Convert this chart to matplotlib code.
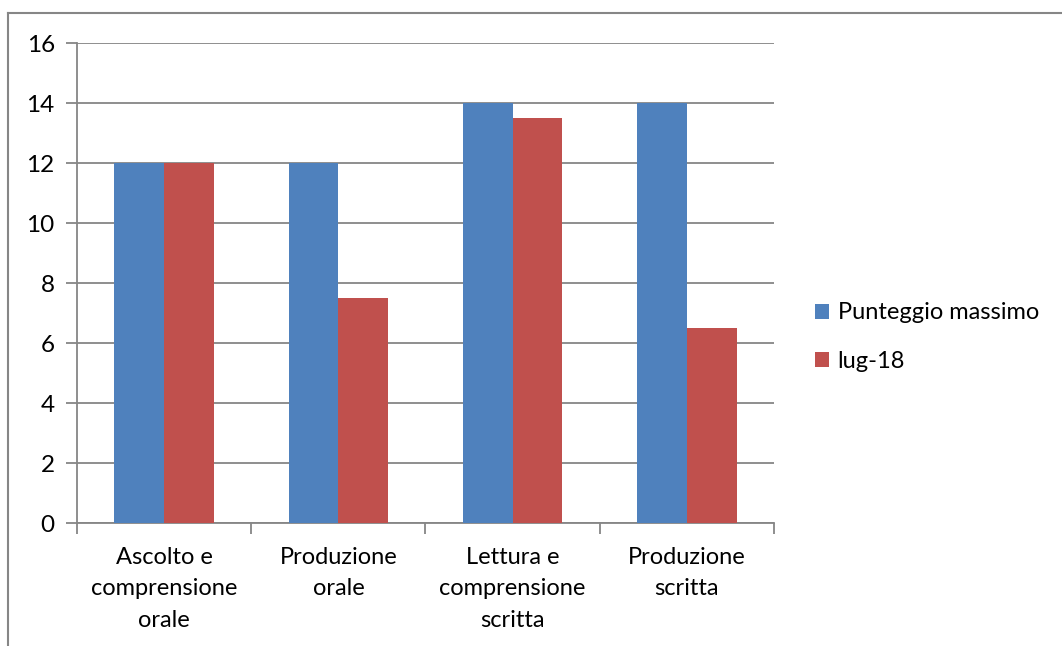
import matplotlib.pyplot as plt
import numpy as np

plt.rcParams['font.family'] = ['Lato', 'DejaVu Sans']

categories = ['Ascolto e\ncomprensione\norale', 'Produzione\norale',
              'Lettura e\ncomprensione\nscritta', 'Produzione\nscritta']
punteggio_massimo = [12, 12, 14, 14]
lug_18 = [12, 7.5, 13.5, 6.5]
series_names = ['Punteggio massimo', 'lug-18']
yticks = [0, 2, 4, 6, 8, 10, 12, 14, 16]

blue = '#4F81BD'
red = '#C0504D'
grid = '#868686'

W, H = 1062, 646
fig = plt.figure(figsize=(W / 100, H / 100), dpi=100)
ax = fig.add_axes([77 / W, 1 - 523 / H, (774 - 77) / W, (523 - 43) / H])

# chart border (only top and left visible in reference)
fig.add_artist(plt.Line2D([8 / W, 8 / W], [0, 1 - 13 / H], color=grid, lw=1.5,
                          transform=fig.transFigure))
fig.add_artist(plt.Line2D([8 / W, 1], [1 - 13 / H, 1 - 13 / H], color=grid, lw=1.5,
                          transform=fig.transFigure))

x = np.arange(len(categories))
bw = 0.285
ax.bar(x - bw / 2, punteggio_massimo, bw, color=blue, label=series_names[0], zorder=3)
ax.bar(x + bw / 2, lug_18, bw, color=red, label=series_names[1], zorder=3)

ax.set_xlim(-0.5, len(categories) - 0.5)
ax.set_ylim(0, 16)
ax.set_yticks(yticks)
ax.set_yticklabels([str(v) for v in yticks], fontsize=17.5)
ax.set_xticks(x)
ax.set_xticklabels(categories, fontsize=17, linespacing=1.62)
ax.set_xticks(np.arange(-0.5, len(categories)), minor=True)
ax.tick_params(axis='x', which='major', length=0, pad=17)
ax.tick_params(axis='x', which='minor', length=8, width=1.3, color=grid, direction='out')
ax.tick_params(axis='y', length=8, width=1.3, color=grid, direction='out', pad=8)

ax.grid(axis='y', color=grid, lw=1.3, zorder=0)
for s in ['top', 'right']:
    ax.spines[s].set_visible(False)
for s in ['left', 'bottom']:
    ax.spines[s].set_color(grid)
    ax.spines[s].set_linewidth(1.3)

ax.legend(loc='center left', bbox_to_anchor=(794 / W, 1 - 337 / H),
          bbox_transform=fig.transFigure, frameon=False, fontsize=17,
          handlelength=0.6, handleheight=0.6, handletextpad=0.35, labelspacing=1.15)

fig.savefig('out.png', dpi=100)
